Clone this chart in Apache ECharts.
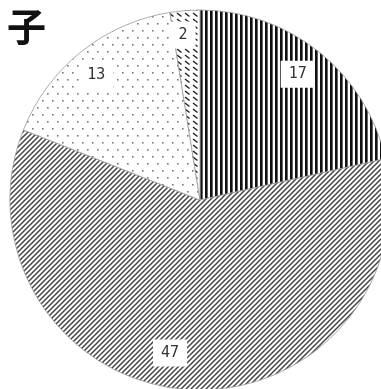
<!DOCTYPE html>
<html>
<head>
<meta charset="utf-8">
<script src="https://cdn.jsdelivr.net/npm/echarts@6/dist/echarts.min.js"></script>
<style>
  html, body { margin: 0; padding: 0; background: #fff; }
  #chart { width: 381px; height: 389px; }
</style>
</head>
<body>
<div id="chart"></div>
<script>
// Slice values, clockwise from 12 o'clock
const categories = ['A', 'B', 'C', 'D'];
const values = [17, 47, 13, 2];
const titleText = '子';

// Fill patterns built on small tiles
function tile(w, h, draw) {
  const c = document.createElement('canvas');
  c.width = w; c.height = h;
  const ctx = c.getContext('2d');
  ctx.fillStyle = '#fff';
  ctx.fillRect(0, 0, w, h);
  draw(ctx, w, h);
  return { image: c, repeat: 'repeat' };
}

const vertical = tile(5, 5, (ctx, w, h) => {
  ctx.fillStyle = '#111';
  ctx.fillRect(0, 0, 2, h);
  ctx.fillStyle = '#666';
  ctx.fillRect(2, 0, 1, h);
});

const diagonal = tile(5, 5, (ctx, w, h) => {
  ctx.strokeStyle = '#444';
  ctx.lineWidth = 1.5;
  ctx.beginPath();
  ctx.moveTo(-1, h + 1); ctx.lineTo(w + 1, -1);
  ctx.moveTo(-1, 1); ctx.lineTo(1, -1);
  ctx.moveTo(w - 1, h + 1); ctx.lineTo(w + 1, h - 1);
  ctx.stroke();
});

const dots = tile(10, 14, (ctx) => {
  ctx.fillStyle = '#777';
  ctx.fillRect(2, 2, 1.6, 1.6);
  ctx.fillRect(7, 9, 1.6, 1.6);
});

const dashes = tile(8, 6, (ctx) => {
  ctx.strokeStyle = '#222';
  ctx.lineWidth = 1.5;
  ctx.beginPath();
  ctx.moveTo(1, 1); ctx.lineTo(5.5, 4.5);
  ctx.stroke();
});

const fills = [vertical, diagonal, dots, dashes];
const labelOffsets = [[-4, 1], [-17, -9], [-2, 2], [-4, -3]];

const center = [200, 200];
const R = 190;

const chart = echarts.init(document.getElementById('chart'), null, { renderer: 'canvas' });

chart.setOption({
  animation: false,
  backgroundColor: '#fff',
  graphic: [{
    type: 'text',
    left: 7,
    top: 7,
    style: {
      text: titleText,
      font: 'bold 39px "Noto Sans CJK JP"',
      fill: '#111'
    }
  }],
  series: [
    {
      // patterned slices
      type: 'pie',
      center: center,
      radius: [0, R],
      startAngle: 90,
      clockwise: true,
      silent: true,
      label: { show: false },
      labelLine: { show: false },
      itemStyle: { borderColor: '#999', borderWidth: 0.8 },
      data: categories.map((name, i) => ({
        name: name,
        value: values[i],
        itemStyle: { color: fills[i] }
      }))
    },
    {
      // ring used only to place the value labels
      type: 'pie',
      center: center,
      radius: [R * 0.68, R],
      startAngle: 90,
      clockwise: true,
      silent: true,
      itemStyle: { color: 'rgba(0,0,0,0)', borderWidth: 0 },
      labelLine: { show: false },
      data: categories.map((name, i) => ({
        name: name,
        value: values[i],
        label: {
          show: true,
          position: 'inside',
          formatter: '{c}',
          offset: labelOffsets[i],
          fontFamily: '"DejaVu Sans Mono", monospace',
          fontSize: 15,
          color: '#333',
          backgroundColor: '#fff',
          padding: [6, 8]
        }
      }))
    }
  ]
});
</script>
</body>
</html>
